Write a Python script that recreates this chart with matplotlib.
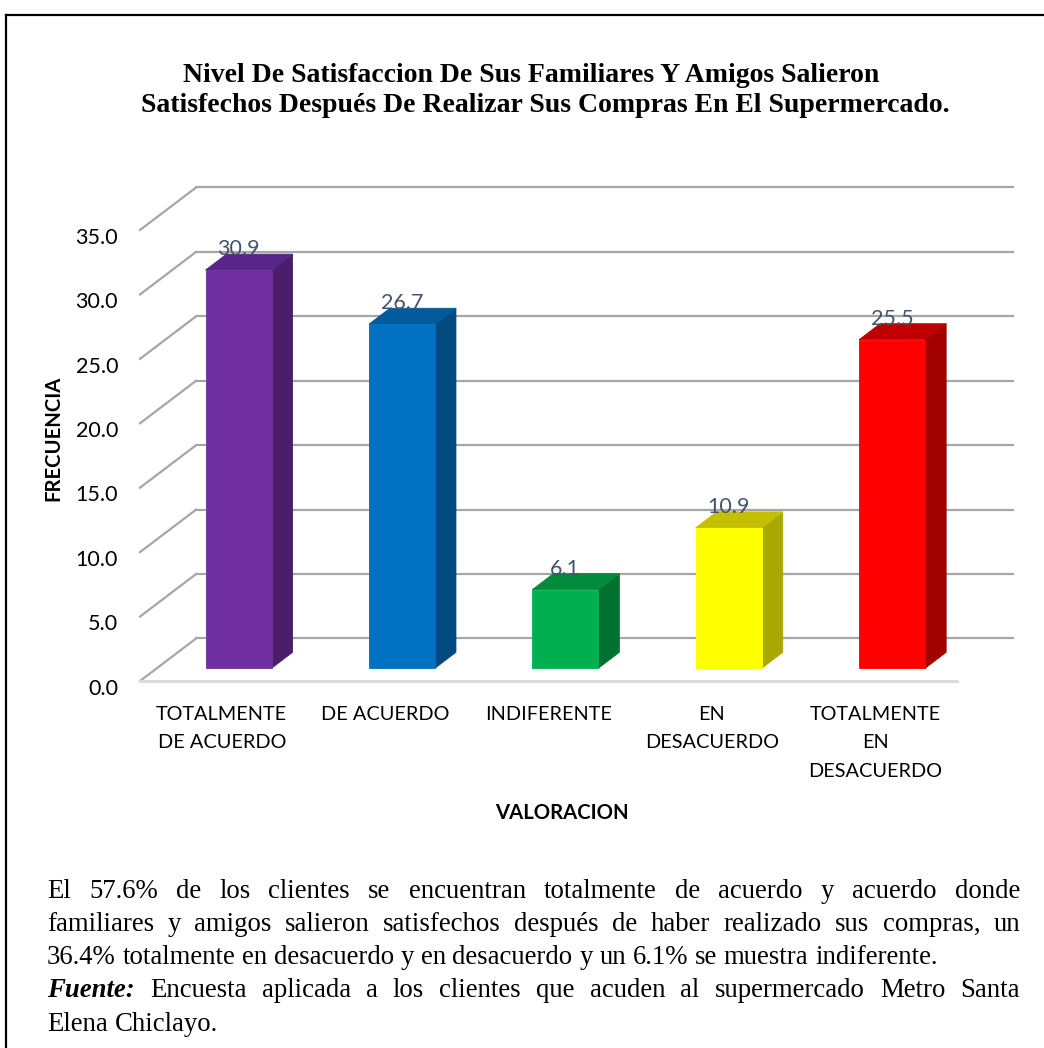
import matplotlib
matplotlib.use("Agg")
import matplotlib.pyplot as plt
from matplotlib.patches import Polygon

plt.rcParams['font.family'] = 'Lato'

categorias = ["TOTALMENTE\nDE ACUERDO", "DE ACUERDO", "INDIFERENTE",
              "EN\nDESACUERDO", "TOTALMENTE\nEN\nDESACUERDO"]
frecuencia = [30.9, 26.7, 6.1, 10.9, 25.5]
ticks_y = [0, 5, 10, 15, 20, 25, 30, 35]

# colores: frente, lado, tapa
colores = [("#7030A0", "#4A1E6A", "#5A2588"),
           ("#0070C0", "#004A80", "#005A9C"),
           ("#00B050", "#00722F", "#008A3C"),
           ("#FFFF00", "#A8A800", "#C4C000"),
           ("#FF0000", "#A30000", "#C00000")]

titulo = ["Nivel De Satisfaccion De Sus Familiares Y Amigos Salieron",
          "Satisfechos Después De Realizar Sus Compras En El Supermercado."]

parrafo = [
    ("El 57.6% de los clientes se encuentran totalmente de acuerdo y acuerdo donde", True),
    ("familiares y amigos salieron satisfechos después de haber realizado sus compras, un", True),
    ("36.4% totalmente en desacuerdo y en desacuerdo y un 6.1% se muestra indiferente.", False),
    ("*Fuente: Encuesta aplicada a los clientes que acuden al supermercado Metro Santa", True),
    ("Elena Chiclayo.", False),
]

W, H = 1044, 1048
fig = plt.figure(figsize=(W / 100, H / 100), dpi=100)
ax = fig.add_axes([0, 0, 1, 1])
ax.set_xlim(-1.3568, 5.0324)
ax.set_ylim(-28.48, 52.85)
ax.axis("off")

# profundidad del efecto 3D (unidades de categoria / valor)
DX, DY = 0.343, 3.30
d0, d1 = 0.30, 0.675
ancho = 0.404

# pared del fondo y lineas de cuadricula
gris = "#A6A6A6"
for v in ticks_y:
    ax.plot([-0.5, -0.5 + DX], [v, v + DY], color=gris, lw=1.6, zorder=1)
    ax.plot([-0.5 + DX, 4.5 + DX], [v + DY, v + DY], color=gris, lw=1.6, zorder=1)
    ax.text(-0.6346, v - 0.6, f"{v:.1f}", ha="right", va="center",
            fontsize=15.5, color="#000000")
ax.plot([-0.5, 4.5], [0, 0], color="#D9DCE1", lw=2.2, zorder=1)

for i, (v, (cf, cs, ct)) in enumerate(zip(frecuencia, colores)):
    xl = i - ancho / 2 + d0 * DX
    xr = i + ancho / 2 + d0 * DX
    y0 = d0 * DY
    ex, ey = (d1 - d0) * DX, (d1 - d0) * DY
    frente = [(xl, y0), (xr, y0), (xr, y0 + v), (xl, y0 + v)]
    lado = [(xr, y0), (xr + ex, y0 + ey), (xr + ex, y0 + ey + v), (xr, y0 + v)]
    tapa = [(xl, y0 + v), (xr, y0 + v), (xr + ex, y0 + ey + v), (xl + ex, y0 + ey + v)]
    for pts, c in ((lado, cs), (tapa, ct), (frente, cf)):
        ax.add_patch(Polygon(pts, closed=True, facecolor=c, edgecolor=c,
                             lw=0.6, zorder=3))
    ax.text(i + d0 * DX, v + 2.6, f"{v:.1f}", ha="center", va="center",
            fontsize=15.5, color="#44546A", zorder=5)
    ax.text(i, -1.95, categorias[i], ha="center", va="top", fontsize=14.3,
            linespacing=1.8, color="#000000")

fig.text(53 / W, 1 - 438 / H, "FRECUENCIA", rotation=90, ha="center",
         va="center", fontsize=14.6, fontweight="bold")
fig.text(562 / W, 1 - 813 / H, "VALORACION", ha="center", va="center",
         fontsize=14.6, fontweight="bold")

# titulo
fig.text(531 / W, 1 - 75 / H, titulo[0], ha="center", va="center",
         family="Liberation Serif", fontweight="bold", fontsize=20)
fig.text(545.5 / W, 1 - 106 / H, titulo[1], ha="center", va="center",
         family="Liberation Serif", fontweight="bold", fontsize=20)

# marco
fig.add_artist(plt.Line2D([6 / W, 6 / W], [0, 1 - 15 / H], transform=fig.transFigure,
                          color="black", lw=1.6))
fig.add_artist(plt.Line2D([6 / W, 1], [1 - 15 / H, 1 - 15 / H], transform=fig.transFigure,
                          color="black", lw=1.6))

# texto justificado debajo del grafico
renderer = fig.canvas.get_renderer()
x0, x1 = 47, 1020
fs = 19.3
espacio = 0.25 * fs * 100 / 72
for k, (linea, justificar) in enumerate(parrafo):
    y = 1 - (891 + 33.3 * k) / H
    palabras = []
    for p in linea.split(" "):
        if p.startswith("*"):
            t = fig.text(0, y, p[1:], va="center", family="Liberation Serif",
                         fontsize=fs, fontweight="bold", style="italic")
        else:
            t = fig.text(0, y, p, va="center", family="Liberation Serif", fontsize=fs)
        palabras.append(t)
    anchos = [t.get_window_extent(renderer).width for t in palabras]
    if justificar:
        gap = (x1 - x0 - sum(anchos)) / (len(palabras) - 1)
    else:
        gap = espacio
    x = x0
    for t, w in zip(palabras, anchos):
        t.set_x(x / W)
        x += w + gap

fig.savefig("out.png", dpi=100)
